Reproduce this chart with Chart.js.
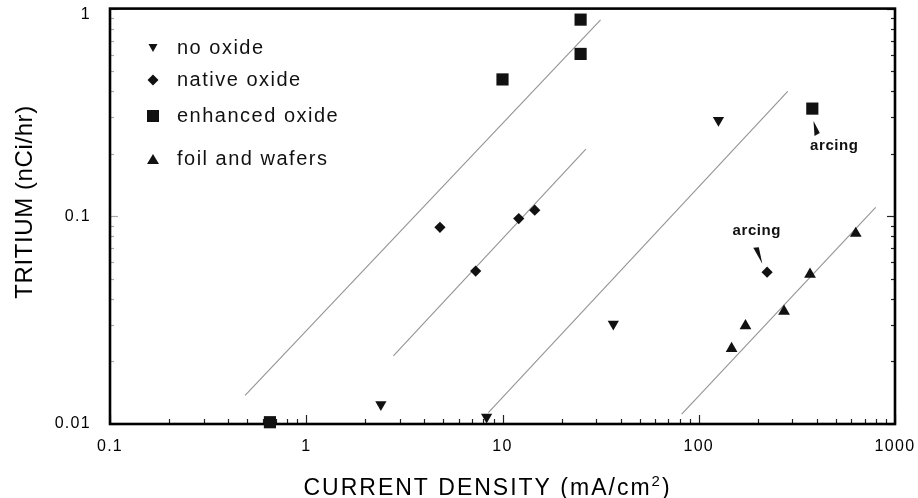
<!DOCTYPE html>
<html><head><meta charset="utf-8">
<script src="https://cdn.jsdelivr.net/npm/chart.js@4/dist/chart.umd.min.js"></script>
<style>html,body{margin:0;padding:0;background:#fff}#wrap{width:918px;height:498px;position:relative}</style>
</head><body><div id="wrap"><canvas id="c"></canvas></div>
<script>
// ---- data ----
const xTicks = [0.1, 1, 10, 100, 1000];
const xTickLabels = ['0.1', '1', '10', '100', '1000'];
const yTicks = [0.01, 0.1, 1];
const yTickLabels = ['0.01', '0.1', '1'];

const seriesNames = ['no oxide', 'native oxide', 'enhanced oxide', 'foil and wafers'];
const noOxideX = [2.4, 8.3, 36.7, 126];
const noOxideY = [0.0124, 0.0108, 0.0303, 0.29];
const nativeX = [4.8, 7.3, 12.1, 14.6, 223];
const nativeY = [0.0885, 0.0545, 0.0975, 0.107, 0.0538];
const enhancedX = [0.653, 10.0, 25.0, 25.0, 379];
const enhancedY = [0.0102, 0.456, 0.605, 0.885, 0.33];
const foilX = [147, 173, 272, 369, 631];
const foilY = [0.0231, 0.0297, 0.0349, 0.0525, 0.0827];

const line1X = [0.488, 31.6], line1Y = [0.01374, 0.882];
const line2X = [2.78, 26.6], line2Y = [0.0213, 0.2107];
const line3X = [8.47, 284], line3Y = [0.01133, 0.399];
const line4X = [81.9, 797], line4Y = [0.01117, 0.1104];

const annotationText = 'arcing';
const xTitle = 'CURRENT DENSITY (mA/cm';
const xTitleSup = '2';
const yTitle = 'TRITIUM (nCi/hr)';

const pts = (xs, ys) => xs.map((x, i) => ({x, y: ys[i]}));
const FONT = "'Liberation Sans', Arial, Helvetica, sans-serif";
const INK = '#111';

const lineDs = (xs, ys) => ({
  type: 'line', data: pts(xs, ys), borderColor: '#939393', borderWidth: 1.1,
  pointRadius: 0, fill: false, tension: 0, order: 5
});
const scatterDs = (label, xs, ys, style, r, rot) => ({
  type: 'scatter', label, data: pts(xs, ys), pointStyle: style, pointRadius: r,
  pointHoverRadius: r, pointRotation: rot || 0, backgroundColor: INK, borderColor: INK,
  borderWidth: 0, clip: false, order: 1
});

function drawTri(ctx, x, y, w, h, down) {
  ctx.beginPath();
  if (down) { ctx.moveTo(x - w/2, y - h/2); ctx.lineTo(x + w/2, y - h/2); ctx.lineTo(x, y + h/2); }
  else { ctx.moveTo(x - w/2, y + h/2); ctx.lineTo(x + w/2, y + h/2); ctx.lineTo(x, y - h/2); }
  ctx.closePath(); ctx.fill();
}

const decor = {
  id: 'decor',
  beforeDraw(chart) { chart.ctx.letterSpacing = '1.3px'; },
  beforeDatasetsDraw(chart) {
    const {ctx, chartArea: a, scales: {x, y}} = chart;
    ctx.save();
    ctx.letterSpacing = '0px';
    // inner ticks
    ctx.lineWidth = 1.2;
    ctx.strokeStyle = '#222';
    for (let d = -1; d <= 3; d++) {
      for (let m = 1; m <= 9; m++) {
        const v = m * Math.pow(10, d);
        if (v < x.min * 0.999 || v > x.max * 1.001) continue;
        const px = Math.round(x.getPixelForValue(v)) + 0.5;
        const len = m === 1 ? 9 : 5;
        ctx.beginPath(); ctx.moveTo(px, a.bottom); ctx.lineTo(px, a.bottom - len); ctx.stroke();
      }
    }
    for (let d = -2; d <= 0; d++) {
      for (let m = 1; m <= 9; m++) {
        const v = m * Math.pow(10, d);
        if (v < y.min * 0.999 || v > y.max * 1.001) continue;
        const py = Math.round(y.getPixelForValue(v)) + 0.5;
        const len = m === 1 ? 8 : 4;
        ctx.strokeStyle = '#aaa';
        ctx.beginPath(); ctx.moveTo(a.left, py); ctx.lineTo(a.left + len, py); ctx.stroke();
        ctx.strokeStyle = '#222';
        ctx.beginPath(); ctx.moveTo(a.right, py); ctx.lineTo(a.right - len, py); ctx.stroke();
      }
    }
    // frame
    ctx.strokeStyle = '#000';
    ctx.lineWidth = 2.6;
    ctx.strokeRect(a.left, a.top, a.right - a.left, a.bottom - a.top);
    ctx.restore();
  },
  afterDatasetsDraw(chart) {
    const {ctx, scales: {x, y}} = chart;
    ctx.save();
    ctx.fillStyle = INK;
    // legend
    const lx = 153, tx = 177, rows = [48, 80, 116, 159];
    drawTri(ctx, lx, rows[0], 9, 8, true);
    ctx.beginPath(); ctx.moveTo(lx, rows[1] - 5.5); ctx.lineTo(lx + 5.5, rows[1]); ctx.lineTo(lx, rows[1] + 5.5); ctx.lineTo(lx - 5.5, rows[1]); ctx.closePath(); ctx.fill();
    ctx.fillRect(lx - 6, rows[2] - 6, 12, 12);
    drawTri(ctx, lx, rows[3], 12, 10, false);
    ctx.font = '20px ' + FONT;
    ctx.letterSpacing = '1.5px';
    ctx.textAlign = 'left'; ctx.textBaseline = 'alphabetic';
    seriesNames.forEach((n, i) => ctx.fillText(n, tx, rows[i] + 6));

    // annotations
    ctx.font = 'bold 15px ' + FONT;
    ctx.letterSpacing = '0.6px';
    const sx = x.getPixelForValue(enhancedX[4]), sy = y.getPixelForValue(enhancedY[4]);
    ctx.fillText(annotationText, sx - 2.3, sy + 41);
    ctx.beginPath(); ctx.moveTo(sx + 1.2, sy + 12.5); ctx.lineTo(sx + 2.2, sy + 27.5); ctx.lineTo(sx + 7.5, sy + 24.5); ctx.closePath(); ctx.fill();
    const dx = x.getPixelForValue(nativeX[4]), dy = y.getPixelForValue(nativeY[4]);
    ctx.fillText(annotationText, dx - 34.6, dy - 37);
    ctx.beginPath(); ctx.moveTo(dx - 13.8, dy - 24.5); ctx.lineTo(dx - 8.3, dy - 25); ctx.lineTo(dx - 4.8, dy - 8.5); ctx.closePath(); ctx.fill();

    // axis titles
    ctx.fillStyle = '#000';
    ctx.font = '23px ' + FONT;
    ctx.letterSpacing = '2px';
    const w1 = ctx.measureText(xTitle).width;
    ctx.font = '15px ' + FONT;
    const w2 = ctx.measureText(xTitleSup).width;
    ctx.font = '23px ' + FONT;
    const w3 = ctx.measureText(')').width;
    let start = 487.5 - (w1 + w2 + w3) / 2;
    const base = 495;
    ctx.fillText(xTitle, start, base);
    ctx.font = '15px ' + FONT;
    ctx.fillText(xTitleSup, start + w1, base - 9);
    ctx.font = '23px ' + FONT;
    ctx.fillText(')', start + w1 + w2, base);

    ctx.translate(32, 202);
    ctx.rotate(-Math.PI / 2);
    ctx.font = '24px ' + FONT;
    ctx.letterSpacing = '0.6px';
    ctx.textAlign = 'center';
    ctx.fillText(yTitle, 0, 0);
    ctx.restore();
  }
};

new Chart(document.getElementById('c'), {
  data: {
    datasets: [
      lineDs(line1X, line1Y), lineDs(line2X, line2Y), lineDs(line3X, line3Y), lineDs(line4X, line4Y),
      scatterDs(seriesNames[0], noOxideX, noOxideY, 'triangle', 6.5, 180),
      scatterDs(seriesNames[1], nativeX, nativeY, 'rectRot', 5.6),
      scatterDs(seriesNames[2], enhancedX, enhancedY, 'rect', 8.6),
      scatterDs(seriesNames[3], foilX, foilY, 'triangle', 6.8)
    ]
  },
  options: {
    responsive: true, maintainAspectRatio: false, animation: false,
    devicePixelRatio: 1,
    layout: {padding: {top: 8, right: 23, left: 0, bottom: 0}},
    plugins: {legend: {display: false}, tooltip: {enabled: false}, title: {display: false}},
    scales: {
      x: {
        type: 'logarithmic', position: 'bottom', min: 0.1, max: 1000,
        grid: {display: false, drawTicks: false}, border: {display: false},
        afterBuildTicks: s => { s.ticks = xTicks.map(v => ({value: v})); },
        afterFit: s => { s.height = 74; s.paddingLeft = 0; s.paddingRight = 0; },
        ticks: {
          padding: 13, color: '#000', maxRotation: 0, autoSkip: false,
          font: {size: 16, family: FONT},
          callback: (v) => { const i = xTicks.findIndex(t => Math.abs(t - v) / t < 1e-6); return i >= 0 ? xTickLabels[i] : ''; }
        }
      },
      y: {
        type: 'logarithmic', position: 'left', min: 0.01, max: 1,
        grid: {display: false, drawTicks: false}, border: {display: false},
        afterBuildTicks: s => { s.ticks = yTicks.map(v => ({value: v})); },
        afterFit: s => { s.width = 110; s.paddingTop = 0; s.paddingBottom = 0; },
        ticks: {
          padding: 19, color: '#000', autoSkip: false,
          font: {size: 16, family: FONT, lineHeight: 0.8},
          callback: (v) => {
            const i = yTicks.findIndex(t => Math.abs(t - v) / t < 1e-6);
            if (i < 0) return '';
            return i === yTicks.length - 1 ? ['', yTickLabels[i]] : yTickLabels[i];
          }
        }
      }
    }
  },
  plugins: [decor]
});
</script>
</body></html>
